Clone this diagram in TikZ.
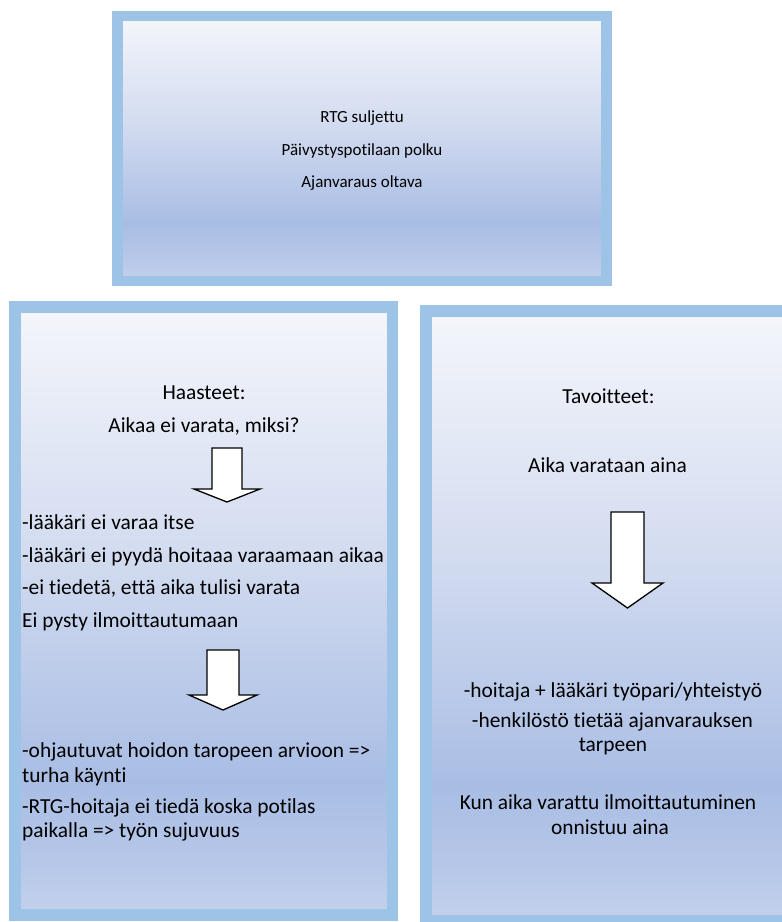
\documentclass[tikz,border=0pt]{standalone}
\usepackage{fontspec}
\setmainfont{Carlito}[Ligatures=CommonOff]
\definecolor{frameblue}{HTML}{9DC3E6}
\definecolor{gA}{HTML}{C3D1EC}
\definecolor{gB}{HTML}{B6C7E8}
\definecolor{gC}{HTML}{A9BDE4}
\definecolor{gD}{HTML}{D3DCF0}
\definecolor{gE}{HTML}{F4F6FB}
% light-blue panel fill: pale at the top, darkest band near the bottom
\pgfdeclareverticalshading{panelfill}{100bp}{%
  color(0bp)=(gA); color(25bp)=(gA); color(29.5bp)=(gB); color(36bp)=(gC);
  color(55bp)=(gD); color(75bp)=(gE); color(100bp)=(gE)}
\begin{document}
\begin{tikzpicture}[x=1pt,y=-1pt,
  panel/.style={draw=frameblue, shading=panelfill, inner sep=0pt},
  blockarrow/.style={fill=white, draw=black, line width=1.3pt, line join=miter},
  txt/.style={font=\fontsize{21.4}{25}\selectfont, inner sep=0pt, anchor=base},
  ltxt/.style={txt, anchor=base west},
  smalltxt/.style={font=\fontsize{17}{20}\selectfont, inner sep=0pt, anchor=base}]
\useasboundingbox (0,0) rectangle (782,922);
\clip (0,0) rectangle (782,922);

% panels
\node[panel, line width=10.5pt, minimum width=489pt, minimum height=265pt] (topbox) at (362,148.5) {};
\node[panel, line width=11.5pt, minimum width=377.5pt, minimum height=608pt] (leftbox) at (203.75,611) {};
\node[panel, line width=12pt, minimum width=368pt, minimum height=610.5pt] (rightbox) at (610,615.75) {};

% top panel
\node[smalltxt] (t1) at (362,122) {RTG suljettu};
\node[smalltxt] (t2) at (362,155) {Päivystyspotilaan polku};
\node[smalltxt] (t3) at (362,187) {Ajanvaraus oltava};

% left panel
\node[txt] (h1) at (204,399) {Haasteet:};
\node[txt] (h2) at (204,432) {Aikaa ei varata, miksi?};
\draw[blockarrow] (212,448) -- (242,448) -- (242,489) -- (260,489) -- (227,502)
  -- (194,489) -- (212,489) -- cycle;
\node[ltxt] (a1) at (22,529) {-lääkäri ei varaa itse};
\node[ltxt] (a2) at (22,562) {-lääkäri ei pyydä hoitaaa varaamaan aikaa};
\node[ltxt] (a3) at (22,594) {-ei tiedetä, että aika tulisi varata};
\node[ltxt] (a4) at (22,627) {Ei pysty ilmoittautumaan};
\draw[blockarrow] (207,650) -- (239,650) -- (239,695) -- (257,695) -- (223,710)
  -- (189,695) -- (207,695) -- cycle;
\node[ltxt] (b1) at (22,757) {-ohjautuvat hoidon taropeen arvioon =>};
\node[ltxt] (b2) at (22,782) {turha käynti};
\node[ltxt] (b3) at (22,813) {-RTG-hoitaja ei tiedä koska potilas};
\node[ltxt] (b4) at (22,837) {paikalla => työn sujuvuus};

% right panel
\node[txt] (g1) at (608.5,403) {Tavoitteet:};
\node[txt] (g2) at (607.5,472) {Aika varataan aina};
\draw[blockarrow] (611,512) -- (644,512) -- (644,583) -- (663,583) -- (627.5,608)
  -- (592,583) -- (611,583) -- cycle;
\node[txt] (c1) at (613,697) {-hoitaja + lääkäri työpari/yhteistyö};
\node[txt] (c2) at (612.5,727) {-henkilöstö tietää ajanvarauksen};
\node[txt] (c3) at (613,751) {tarpeen};
\node[txt] (c4) at (608,809) {Kun aika varattu ilmoittautuminen};
\node[txt] (c5) at (610,834) {onnistuu aina};
\end{tikzpicture}
\end{document}
